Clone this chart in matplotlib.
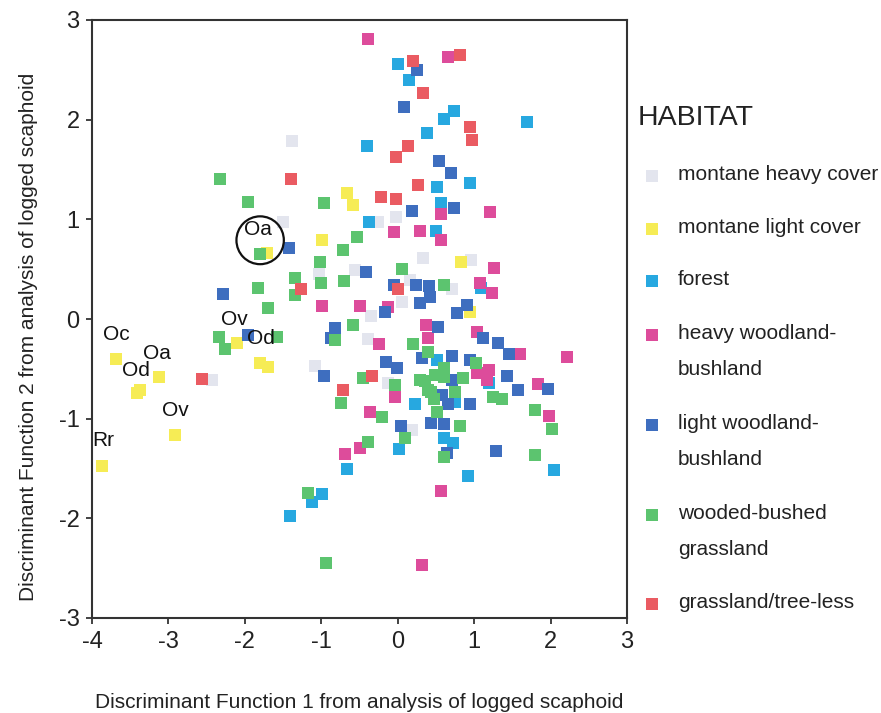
import matplotlib
matplotlib.use("Agg")
import matplotlib.pyplot as plt
from matplotlib.lines import Line2D
from matplotlib.patches import Ellipse

plt.rcParams['font.family'] = ['Liberation Sans', 'DejaVu Sans']
plt.rcParams['axes.unicode_minus'] = False

# habitat groups: (x, y) = discriminant function 1, 2
montane_heavy_x = [-1.38, -1.50, -1.03, -2.43, -0.26, -0.02, 0.33, 0.96, -0.56, 0.16, 0.71, 0.06, -0.35, -0.39, -1.08, -0.13, 0.19]
montane_heavy_y = [1.79, 0.97, 0.45, -0.61, 0.97, 1.02, 0.61, 0.59, 0.49, 0.39, 0.30, 0.17, 0.03, -0.20, -0.47, -0.64, -1.11]

montane_light_x = [-3.68, -3.12, -3.41, -3.37, -2.91, -3.87, -2.10, -1.80, -1.70, -1.71, -0.99, -0.66, -0.58, 0.83, 0.94]
montane_light_y = [-0.40, -0.58, -0.74, -0.71, -1.16, -1.47, -0.24, -0.44, -0.48, 0.66, 0.79, 1.26, 1.14, 0.57, 0.07]

forest_x = [0.00, 0.15, 0.73, 0.61, 1.69, 0.38, -0.40, 0.52, 0.95, 0.57, -0.37, 0.50, 1.09, 0.52, 0.23, 0.02, -0.66,
            0.75, 0.60, 0.72, 0.92, 1.20, 2.05, -0.99, -1.12, -1.41]
forest_y = [2.56, 2.40, 2.09, 2.01, 1.98, 1.87, 1.74, 1.32, 1.36, 1.16, 0.97, 0.88, 0.31, -0.41, -0.85, -1.30, -1.50,
            -0.83, -1.19, -1.24, -1.58, -0.64, -1.52, -1.76, -1.84, -1.98]

heavy_wood_x = [-0.39, 0.66, 0.57, 1.21, -0.05, 0.29, 0.57, 1.26, 1.08, 1.23, -0.99, -0.50, -0.13, 0.37, 0.40,
                -0.24, 1.04, 1.60, 2.22, 1.19, 1.17, 1.04, 1.84, -0.03, -0.36, -0.49, -0.69, 0.57, 0.32, 1.98]
heavy_wood_y = [2.81, 2.63, 1.05, 1.07, 0.87, 0.88, 0.79, 0.51, 0.36, 0.26, 0.13, 0.13, 0.12, -0.06, -0.19,
                -0.25, -0.13, -0.35, -0.38, -0.51, -0.61, -0.54, -0.65, -0.78, -0.93, -1.29, -1.35, -1.73, -2.47, -0.97]

light_wood_x = [0.25, 0.08, 0.54, 0.70, 0.73, 0.19, -1.42, -2.28, -1.96, -0.82, -0.87, -0.97, -0.41, -0.05, 0.24,
                0.41, 0.42, 0.29, -0.16, 0.91, 0.78, 0.53, 1.12, 1.31, 1.46, 0.32, 0.71, 0.94, -0.15, -0.01,
                1.43, 1.58, 1.96, 0.71, 0.58, 0.66, 0.94, 0.04, 0.43, 0.61, 0.64, 1.28]
light_wood_y = [2.50, 2.13, 1.59, 1.46, 1.11, 1.08, 0.71, 0.25, -0.16, -0.09, -0.19, -0.57, 0.47, 0.34, 0.34,
                0.33, 0.22, 0.16, 0.07, 0.14, 0.06, -0.08, -0.19, -0.24, -0.35, -0.39, -0.37, -0.41, -0.43, -0.49,
                -0.57, -0.71, -0.70, -0.61, -0.76, -0.85, -0.85, -1.07, -1.04, -1.05, -1.34, -1.32]

wooded_x = [-2.32, -1.96, -0.96, -1.80, -1.02, -0.72, -1.34, -1.00, -1.34, -1.83, -1.70, -0.53, -0.70, 0.06, 0.60,
            -2.34, -2.26, -1.58, -0.82, -0.58, 0.20, 0.40, 1.02, -0.45, -0.03, -0.74, -0.20, 0.10, -0.39, 0.82,
            0.60, 1.25, 1.36, 1.79, 2.02, 1.79, -1.17, -0.94,
            0.29, 0.36, 0.49, 0.60, 0.60, 0.75, 0.43, 0.47, 0.52, 0.86, 0.40]
wooded_y = [1.40, 1.17, 1.16, 0.65, 0.57, 0.69, 0.41, 0.36, 0.24, 0.31, 0.11, 0.82, 0.38, 0.50, 0.34,
            -0.18, -0.30, -0.18, -0.21, -0.06, -0.25, -0.33, -0.44, -0.59, -0.66, -0.84, -0.98, -1.19, -1.23, -1.07,
            -1.38, -0.78, -0.80, -0.91, -1.10, -1.36, -1.75, -2.45,
            -0.61, -0.62, -0.56, -0.49, -0.58, -0.73, -0.73, -0.80, -0.93, -0.59, -0.71]

grass_x = [0.20, 0.82, 0.33, 0.95, 0.97, 0.14, -0.02, 0.27, -0.22, -0.02, -1.39, -1.26, 0.01, -2.56, -0.34, -0.71]
grass_y = [2.59, 2.65, 2.27, 1.93, 1.80, 1.74, 1.63, 1.34, 1.22, 1.20, 1.40, 0.30, 0.30, -0.60, -0.57, -0.71]

habitats = ["montane heavy cover", "montane light cover", "forest", "heavy woodland-\nbushland",
            "light woodland-\nbushland", "wooded-bushed\ngrassland", "grassland/tree-less"]
colors = ['#e3e5ee', '#f6ec55', '#27a8e0', '#dd4c9b', '#3e6ebf', '#5cc46f', '#ea5b62']
groups = [(montane_heavy_x, montane_heavy_y), (montane_light_x, montane_light_y), (forest_x, forest_y),
          (heavy_wood_x, heavy_wood_y), (light_wood_x, light_wood_y), (wooded_x, wooded_y), (grass_x, grass_y)]

# species labels near the yellow points
species = ["Oc", "Od", "Oa", "Ov", "Rr", "Ov", "Od", "Oa"]
species_x = [-3.68, -3.42, -3.15, -2.91, -3.85, -2.14, -1.79, -1.83]
species_y = [-0.16, -0.52, -0.35, -0.92, -1.22, -0.01, -0.20, 0.90]

fig = plt.figure(figsize=(8.81, 7.13), dpi=100)
ax = fig.add_axes([92/881, 1 - 618/713, 535/881, 598/713])

for (gx, gy), c in zip(groups, colors):
    ax.scatter(gx, gy, marker='s', s=85, c=c, linewidths=0, zorder=3)

for s, sx, sy in zip(species, species_x, species_y):
    ax.text(sx, sy, s, ha='center', va='center', fontsize=15, color='#111111', zorder=5)

ax.add_patch(Ellipse((-1.80, 0.79), 0.62, 0.48, fill=False, lw=1.6, color='#111111', zorder=6))

ax.set_xlim(-4, 3)
ax.set_ylim(-3, 3)
ax.set_xticks(range(-4, 4))
ax.set_yticks(range(-3, 4))
ax.tick_params(direction='out', length=4, width=1.2, labelsize=17, pad=5, colors='#222222')
for sp in ax.spines.values():
    sp.set_linewidth(1.5)
    sp.set_color('#333333')

ax.set_xlabel("Discriminant Function 1 from analysis of logged scaphoid", fontsize=15, color='#222222')
ax.xaxis.set_label_coords(0.5, -0.125)
ax.set_ylabel("Discriminant Function 2 from analysis of logged scaphoid", fontsize=15, color='#222222')
ax.yaxis.set_label_coords(-0.10, 0.47)

# legend drawn by hand to keep the loose spacing of the original
fig.text(638/881, 1 - 118/713, "HABITAT", fontsize=20.5, va='center', ha='left', color='#222222')
entry_y = [176, 229, 281, 335, 425, 515, 604]
for lab, c, py in zip(habitats, colors, entry_y):
    fig.add_artist(Line2D([652/881], [1 - py/713], marker='s', markersize=9, color=c,
                          markeredgewidth=0, linestyle='none', transform=fig.transFigure))
    fig.text(678/881, 1 - (py - 11)/713, lab, fontsize=15, va='top', ha='left',
             linespacing=2.15, color='#222222')

fig.savefig("out.png", dpi=100)
